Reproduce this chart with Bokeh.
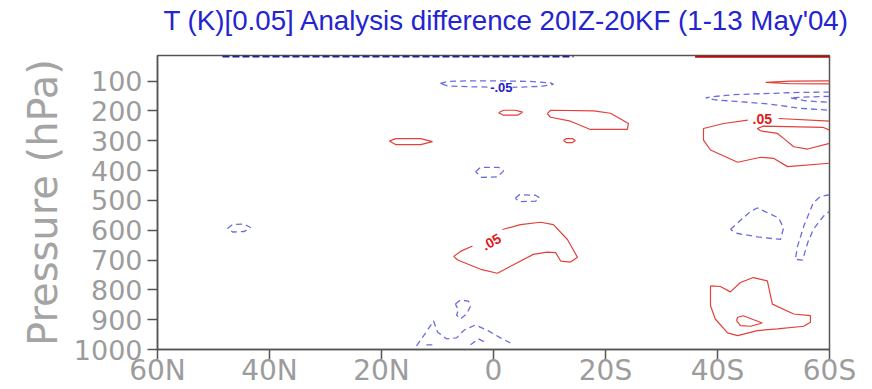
from bokeh.plotting import figure
from bokeh.models import Range1d, FixedTicker, ColumnDataSource, Title
from bokeh.core.properties import value
from bokeh.embed import file_html
from bokeh.resources import INLINE

TITLE = "T (K)[0.05] Analysis difference 20IZ-20KF (1-13 May'04)"

lat_ticks = [60, 40, 20, 0, -20, -40, -60]
lat_tick_labels = ["60N", "40N", "20N", "0", "20S", "40S", "60S"]
p_ticks = [100, 200, 300, 400, 500, 600, 700, 800, 900, 1000]

# ---- +0.05 K isolines (latitude, pressure) ----
pos_top_lat = [-36.0, -60.0]
pos_top_p = [17, 17]

pos_100_sh_lat = [-60.0, -53.0, -48.6, -53.0, -60.0]
pos_100_sh_p = [99.3, 100, 104.3, 108.7, 109.3]

pos_200_eq_lat = [-0.9, -1.8, -3.9, -5.2, -4.3, -1.8, -0.9]
pos_200_eq_p = [206, 197.7, 197.7, 204, 214.3, 214.3, 206]

pos_230_lat = [-9.6, -10.2, -17.9, -20.9, -24.1, -23.9, -17.3, -13.75, -10.2, -9.6]
pos_230_p = [208.7, 197.7, 200, 207.7, 242, 262, 262, 234.3, 221, 208.7]

pos_300_dot_lat = [-12.5, -13.0, -14.1, -14.6, -14.1, -13.0, -12.5]
pos_300_dot_p = [299.3, 292.7, 292.7, 299.3, 306, 306, 299.3]

pos_300_nh_lat = [18.6, 17.5, 13.0, 10.9, 13.0, 17.5, 18.6]
pos_300_nh_p = [301, 292.7, 292.7, 302.7, 312.7, 312.7, 301]

pos_650_lat = [-1.6, -4.8, -8.4, -10.7, -13.2, -15.0, -13.75, -12.0, -11.1, -9.6,
               -7.1, -0.7, 2.3, 6.4, 7.1, 5.9, 3.75]
pos_650_p = [597.7, 581, 573.3, 581, 631, 691, 706.7, 703.3, 675.3, 673.3,
             681, 744.3, 731, 700, 687.7, 671, 652.7]

pos_300_sh_outer_lat = [-45.4, -41.1, -37.5, -37.5, -38.75, -43.6, -47.7, -50.0, -52.5, -60.0]
pos_300_sh_outer_p = [231, 242, 258.7, 297.7, 331, 372, 355.3, 358.7, 386.7, 375.3]

pos_300_sh_upper_lat = [-50.9, -60.0]
pos_300_sh_upper_p = [225.3, 234.3]

pos_300_sh_inner_lat = [-60.0, -58.9, -48.2, -47.1, -47.7, -50.7, -51.8, -53.6, -56.1, -60.0]
pos_300_sh_inner_p = [264.3, 255.3, 251, 258.7, 266.7, 275.3, 292, 320, 327.7, 308.7]

pos_850_sh_lat = [-38.75, -40.5, -42.3, -44.1, -46.4, -48.9, -49.8, -53.6, -56.6, -56.6,
                  -55.4, -50.7, -47.1, -43.6, -41.8, -39.6, -38.75, -38.75]
pos_850_sh_p = [786.7, 788.7, 806.7, 775.3, 758.7, 770, 847.7, 881, 886.7, 908.7,
                922, 931, 936.7, 953.3, 944.3, 897.7, 853.3, 786.7]

pos_900_sh_lat = [-43.4, -43.6, -44.6, -48.0, -45.9, -44.1, -43.4]
pos_900_sh_p = [903.3, 892, 886.7, 911, 922, 920, 903.3]

# ---- -0.05 K isolines ----
neg_top_lat = [48.4, -14.3]
neg_top_p = [17, 17]

neg_100_lat = [9.5, 8.2, 4.1, -1.25, -6.6, -10.2, -10.7, -8.4, -3.0, 4.1, 8.2, 9.5]
neg_100_p = [107.7, 101, 99, 99, 101, 106, 111, 117.7, 121, 119, 116, 107.7]

neg_150_outer_lat = [-60.0, -54.8, -49.5, -42.9, -38.75, -37.9, -39.6, -43.2, -48.9, -54.8, -60.0]
neg_150_outer_p = [136.7, 137.7, 141, 145.3, 152.7, 156, 162.7, 167.7, 176, 191, 197.7]

neg_150_inner_lat = [-60.0, -56.6, -53.0, -55.7, -60.0]
neg_150_inner_p = [151, 152.7, 156, 166, 171]

neg_400_lat = [3.2, 2.3, -0.9, -1.8, -0.7, 2.1, 3.2]
neg_400_p = [404, 389, 389, 401, 421, 423, 404]

neg_500_lat = [-3.9, -4.6, -7.5, -8.2, -7.5, -4.6, -3.9]
neg_500_p = [492.7, 481, 482.7, 491, 502.7, 504.3, 492.7]

neg_600_nh_lat = [47.5, 46.6, 44.5, 43.4, 44.5, 46.6, 47.5]
neg_600_nh_p = [594.3, 581, 579.3, 591, 604.3, 606, 594.3]

neg_600_sh_lat = [-42.3, -45.9, -47.1, -50.9, -51.8, -51.25, -47.1, -43.6, -42.3]
neg_600_sh_p = [597.7, 536.7, 525.3, 558.7, 592, 631, 622, 611, 597.7]

neg_600_edge_lat = [-60.0, -58.4, -57.1, -55.4, -54.3, -53.9, -55.2, -56.1, -57.1, -58.9, -60.0]
neg_600_edge_p = [481, 486.7, 507.7, 586.7, 653.3, 697.7, 700, 642, 597.7, 553.3, 536.7]

neg_850_lat = [6.8, 5.9, 4.5, 4.1, 4.8, 5.9, 6.6, 6.25, 6.8]
neg_850_p = [847.7, 834, 837.7, 854.3, 881, 897.7, 884.3, 867.7, 847.7]

neg_950_a_lat = [13.75, 12.1, 10.7, 10.0, 8.4, 6.6, 5.2, 3.2, 0.9, -1.25, -3.0]
neg_950_a_p = [987.7, 944.3, 904.3, 941, 964.3, 961, 934.3, 917.7, 937.7, 961, 977.7]

neg_950_b_lat = [12.0, 10.7]
neg_950_b_p = [984.3, 984.3]

neg_950_c_lat = [4.1, 2.7, 1.25]
neg_950_c_p = [984.3, 964.3, 977.7]

# ---- contour labels ----
pos_label_lat = [0.36, -48.0]
pos_label_p = [639, 228]
pos_label_text = [".05", ".05"]
pos_label_angle = [0.5, 0.0]

neg_label_lat = [-1.4]
neg_label_p = [120]
neg_label_text = ["-.05"]

p = figure(width=872, height=389, output_backend="svg", toolbar_location=None,
           x_range=Range1d(60, -60), y_range=Range1d(1000, 14),
           min_border_left=157, min_border_right=43, min_border_top=55,
           min_border_bottom=38, background_fill_color="white",
           border_fill_color="white")

p.title.text = TITLE
p.title.text_font = "Liberation Sans"
p.title.text_font_size = "27.7px"
p.title.text_font_style = "normal"
p.title.text_color = "#2424d0"
p.title.align = "left"
p.title.vertical_align = "top"
p.title.offset = 6
p.title.standoff = 6

# blank strip between the heading and the frame
p.add_layout(Title(text=" ", text_font_size="10px", standoff=2), "above")

p.grid.visible = False
p.outline_line_color = "#555555"
p.outline_line_width = 1.5

for ax in (p.xaxis[0], p.yaxis[0]):
    ax.axis_line_color = "#555555"
    ax.axis_line_width = 1.5
    ax.major_tick_line_color = "#555555"
    ax.major_tick_line_width = 1.5
    ax.major_tick_in = 0
    ax.major_tick_out = 10
    ax.minor_tick_line_color = None
    ax.major_label_text_font = "DejaVu Sans"
    ax.major_label_text_color = "#9c9c9c"

p.xaxis.ticker = FixedTicker(ticks=lat_ticks)
p.xaxis.major_label_overrides = {t: s for t, s in zip(lat_ticks, lat_tick_labels)}
p.xaxis.major_label_text_font_size = "28px"
p.xaxis.major_label_standoff = -6

p.yaxis.ticker = FixedTicker(ticks=p_ticks)
p.yaxis.major_label_text_font_size = "27px"
p.yaxis.major_label_standoff = 5
p.yaxis.axis_label = "Pressure (hPa)"
p.yaxis.axis_label_text_font = "DejaVu Sans"
p.yaxis.axis_label_text_font_size = "40px"
p.yaxis.axis_label_text_font_style = "normal"
p.yaxis.axis_label_text_color = "#a4a4a4"
p.yaxis.axis_label_standoff = 5

pos_lines = [
    (pos_100_sh_lat, pos_100_sh_p), (pos_200_eq_lat, pos_200_eq_p),
    (pos_230_lat, pos_230_p), (pos_300_dot_lat, pos_300_dot_p),
    (pos_300_nh_lat, pos_300_nh_p), (pos_650_lat, pos_650_p),
    (pos_300_sh_outer_lat, pos_300_sh_outer_p), (pos_300_sh_upper_lat, pos_300_sh_upper_p),
    (pos_300_sh_inner_lat, pos_300_sh_inner_p), (pos_850_sh_lat, pos_850_sh_p),
    (pos_900_sh_lat, pos_900_sh_p),
]
neg_lines = [
    (neg_100_lat, neg_100_p), (neg_150_outer_lat, neg_150_outer_p),
    (neg_150_inner_lat, neg_150_inner_p), (neg_400_lat, neg_400_p),
    (neg_500_lat, neg_500_p), (neg_600_nh_lat, neg_600_nh_p),
    (neg_600_sh_lat, neg_600_sh_p), (neg_600_edge_lat, neg_600_edge_p),
    (neg_850_lat, neg_850_p), (neg_950_a_lat, neg_950_a_p),
    (neg_950_b_lat, neg_950_b_p), (neg_950_c_lat, neg_950_c_p),
]

pos_src = ColumnDataSource(dict(xs=[a for a, b in pos_lines], ys=[b for a, b in pos_lines]))
neg_src = ColumnDataSource(dict(xs=[a for a, b in neg_lines], ys=[b for a, b in neg_lines]))

p.multi_line(xs="xs", ys="ys", source=pos_src, line_color="#e2403a", line_width=1.2)
p.multi_line(xs="xs", ys="ys", source=neg_src, line_color="#6b6be0", line_width=1.3,
             line_dash="6 4")

# isolines squeezed against the model top
p.line(neg_top_lat, neg_top_p, line_color="#23238a", line_width=2.2, line_dash="7 3")
p.line(pos_top_lat, pos_top_p, line_color="#b01010", line_width=2.5)

p.text(x=pos_label_lat, y=pos_label_p, text=pos_label_text, angle=pos_label_angle,
       text_font=value("Liberation Sans"), text_font_style="bold", text_font_size="14px",
       text_color="#dd1a1a", text_align="center", text_baseline="middle")
p.text(x=neg_label_lat, y=neg_label_p, text=neg_label_text,
       text_font=value("Liberation Sans"), text_font_style="bold", text_font_size="13px",
       text_color="#2020cc", text_align="center", text_baseline="middle",
       background_fill_color="white")

open("out.html", "w").write(file_html(p, INLINE))
